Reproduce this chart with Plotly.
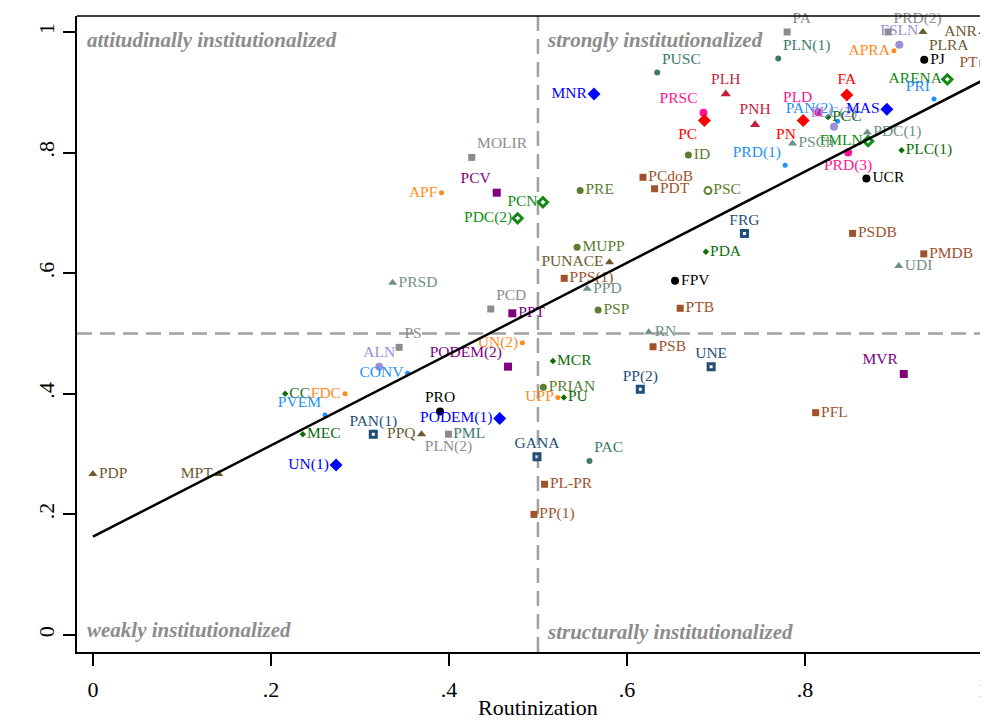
import plotly.graph_objects as go

# ---------------- data ----------------
parties = ["PA", "PLN(1)", "PUSC", "PRD(2)", "FSLN", "PLRA", "ANR", "APRA", "PJ", "PT",
           "ARENA", "PRI", "FA", "PLH", "PRSC", "PNH", "PLD", "PAN(2)", "PLC(2)", "PCC",
           "MAS", "PC", "PN", "PSCh", "FMLN", "PDC(1)", "PLC(1)", "PRD(3)", "PRD(1)", "UCR",
           "ID", "PCdoB", "PDT", "PSC", "MNR", "MOLIR", "APF", "PCV", "PCN", "PDC(2)",
           "PRE", "PRSD", "MUPP", "PUNACE", "PPS(1)", "PPD", "PCD", "PPT", "PSP", "PS",
           "UN(2)", "RN", "FPV", "FRG", "PDA", "PTB", "PSDB", "PMDB", "UDI", "ALN",
           "CONV", "CC", "FDC", "PVEM", "MEC", "PAN(1)", "UN(1)", "PDP", "MPT", "PODEM(2)",
           "MCR", "PRIAN", "UPP", "PU", "PP(2)", "PRO", "PODEM(1)", "PPQ", "PML", "PLN(2)",
           "GANA", "PAC", "PL-PR", "PP(1)", "PSB", "UNE", "MVR", "PFL"]

routinization = [0.780, 0.770, 0.634, 0.8935, 0.906, 0.9325, 1.000, 0.900, 0.934, 1.000,
                 0.960, 0.945, 0.847, 0.711, 0.686, 0.744, 0.815, 0.8366, 0.8326, 0.826,
                 0.892, 0.687, 0.798, 0.786, 0.871, 0.870, 0.9085, 0.8485, 0.7777, 0.869,
                 0.669, 0.618, 0.631, 0.691, 0.563, 0.4256, 0.3916, 0.4537, 0.5056, 0.4772,
                 0.5474, 0.3367, 0.544, 0.5804, 0.5295, 0.5553, 0.447, 0.4712, 0.5676, 0.344,
                 0.4825, 0.6245, 0.654, 0.732, 0.6887, 0.6598, 0.8535, 0.9335, 0.9054, 0.3217,
                 0.3535, 0.216, 0.2833, 0.2608, 0.2358, 0.315, 0.2732, 0.000, 0.1413, 0.4664,
                 0.5168, 0.506, 0.5224, 0.5291, 0.615, 0.390, 0.457, 0.3692, 0.3995, 0.3995,
                 0.4989, 0.5579, 0.5074, 0.4955, 0.6293, 0.6946, 0.911, 0.812]

value_infusion = [1.000, 0.956, 0.933, 1.000, 0.979, 1.000, 1.000, 0.969, 0.954, 0.948,
                  0.9215, 0.889, 0.8955, 0.897, 0.866, 0.846, 0.867, 0.852, 0.843, 0.859,
                  0.872, 0.853, 0.853, 0.815, 0.819, 0.8335, 0.804, 0.800, 0.779, 0.757,
                  0.796, 0.759, 0.740, 0.737, 0.897, 0.792, 0.7335, 0.7335, 0.7176, 0.691,
                  0.737, 0.584, 0.643, 0.618, 0.5915, 0.574, 0.5406, 0.5335, 0.539, 0.477,
                  0.4845, 0.502, 0.5876, 0.666, 0.6357, 0.5418, 0.666, 0.632, 0.612, 0.445,
                  0.434, 0.400, 0.400, 0.365, 0.333, 0.333, 0.282, 0.267, 0.267, 0.445,
                  0.4544, 0.411, 0.394, 0.394, 0.4075, 0.3705, 0.359, 0.333, 0.333, 0.333,
                  0.2957, 0.2886, 0.250, 0.200, 0.478, 0.445, 0.4328, 0.3687]

country = ["PAN", "CR", "CR", "PAN", "NIC", "PAR", "PAR", "PER", "ARG", "BRA",
           "SLV", "MEX", "URU", "HON", "DOM", "HON", "DOM", "MEX", "NIC", "COL",
           "BOL", "URU", "URU", "CHL", "SLV", "CHL", "COL", "DOM", "MEX", "ARG",
           "ECU", "BRA", "BRA", "ECU", "BOL", "PAN", "PER", "VEN", "SLV", "SLV",
           "ECU", "CHL", "ECU", "PAR", "BRA", "CHL", "PAN", "VEN", "ECU", "PAN",
           "PER", "CHL", "ARG", "GUA", "COL", "BRA", "BRA", "BRA", "CHL", "NIC",
           "MEX", "COL", "PER", "MEX", "COL", "GUA", "BOL", "PAR", "PAR", "VEN",
           "COL", "ECU", "PER", "COL", "GUA", "ARG", "BOL", "PAR", "CR", "PAN",
           "GUA", "CR", "BRA", "BRA", "BRA", "GUA", "VEN", "BRA"]

x_tick_vals = [0, 0.2, 0.4, 0.6, 0.8, 1]
x_tick_text = ["0", ".2", ".4", ".6", ".8", "1"]
y_tick_vals = [0, 0.2, 0.4, 0.6, 0.8, 1]
y_tick_text = ["0", ".2", ".4", ".6", ".8", "1"]

fit_intercept = 0.163
fit_slope = 0.757

quadrant_labels = ["attitudinally institutionalized", "strongly institutionalized",
                   "weakly institutionalized", "structurally institutionalized"]

# ---------------- styles ----------------
label_pos = ["top right", "top right", "top right", "top right", "top center", "bottom right", "middle left", "middle left", "middle right", "middle left",
             "middle left", "top left", "top center", "top center", "top left", "top center", "top left", "top left", "top center", "middle right",
             "middle left", "bottom left", "bottom left", "middle right", "middle left", "middle right", "middle right", "bottom center", "top left", "middle right",
             "middle right", "middle right", "middle right", "middle right", "middle left", "top right", "middle left", "top left", "middle left", "middle left",
             "middle right", "middle right", "middle right", "middle left", "middle right", "middle right", "top right", "middle right", "middle right", "top right",
             "middle left", "middle right", "middle right", "top center", "middle right", "middle right", "middle right", "middle right", "middle right", "top center",
             "middle left", "middle right", "middle left", "top left", "middle right", "top center", "middle left", "middle right", "middle left", "top left",
             "middle right", "middle right", "middle left", "middle right", "top center", "top center", "middle left", "middle left", "middle right", "bottom center",
             "top center", "top right", "middle right", "middle right", "middle right", "top center", "top left", "middle right"]

style = {
    "PAN": ("#8c8c8c", "square", 7, 0),
    "CR":  ("#3d7a6e", "circle", 6, 0),
    "CHL": ("#6f9087", "triangle-up", 8, 0),
    "PAR": ("#6b5a2d", "triangle-up", 8, 0),
    "NIC": ("#9a90d6", "circle", 8, 0),
    "PER": ("#ff8c1a", "circle", 5, 0),
    "ARG": ("#000000", "circle", 8, 0),
    "BRA": ("#a0522d", "square", 7, 0),
    "SLV": ("#128a12", "diamond-open", 7, 3),
    "MEX": ("#1e90ff", "circle", 5, 0),
    "URU": ("#ff0000", "diamond", 10, 0),
    "HON": ("#c41e3a", "triangle-up", 9, 0),
    "DOM": ("#ff1493", "circle", 8, 0),
    "BOL": ("#0000ff", "diamond", 10, 0),
    "ECU": ("#5b7d30", "circle", 7, 0),
    "COL": ("#0b6e0b", "diamond", 5, 0),
    "GUA": ("#1f4e79", "square-open", 6, 3),
    "VEN": ("#800080", "square", 8, 0),
}

colors = [style[c][0] for c in country]
symbols = [style[c][1] for c in country]
sizes = [style[c][2] for c in country]
lwidths = [style[c][3] for c in country]
for i, p in enumerate(parties):
    if p == "PSC":
        symbols[i] = "circle-open"
        lwidths[i] = 2

FONT = "Liberation Serif"
GRAY = "#8c8c8c"

fig = go.Figure()

fig.add_trace(go.Scatter(
    x=routinization, y=value_infusion, mode="markers+text",
    text=parties, textposition=label_pos,
    textfont=dict(family=FONT, size=15.5, color=colors),
    marker=dict(color=colors, symbol=symbols, size=sizes, opacity=1,
                line=dict(color=colors, width=lwidths)),
    showlegend=False, cliponaxis=False, hoverinfo="text"))

fit_x = [0, 1]
fit_y = [fit_intercept + fit_slope * v for v in fit_x]
fig.add_trace(go.Scatter(x=fit_x, y=fit_y, mode="lines",
                         line=dict(color="black", width=2.5), showlegend=False))

# reference lines
fig.add_shape(type="line", xref="x", yref="paper", x0=0.5, x1=0.5, y0=0, y1=1,
              line=dict(color="#a0a0a0", width=2.5, dash="15px,8px"), layer="below")
fig.add_shape(type="line", xref="paper", yref="y", x0=0, x1=1, y0=0.5, y1=0.5,
              line=dict(color="#a0a0a0", width=2.5, dash="15px,8px"), layer="below")
# top frame
fig.add_shape(type="line", xref="paper", yref="paper", x0=0, x1=1, y0=1, y1=1,
              line=dict(color="black", width=1.5))

qpos = [(-0.009, 0.987), (0.508, 0.987), (-0.009, 0.008), (0.508, 0.005)]
for txt, (qx, qy) in zip(quadrant_labels, qpos):
    fig.add_annotation(x=qx, y=qy, xref="x", yref="y", text="<b><i>" + txt + "</i></b>",
                       showarrow=False, xanchor="left", yanchor="middle",
                       font=dict(family=FONT, size=21, color=GRAY))

fig.add_annotation(x=0.5, y=-0.087, xref="x", yref="paper", text="Routinization",
                   showarrow=False, xanchor="center", yanchor="middle",
                   font=dict(family=FONT, size=22, color="black"))

# the page adds an 8px body margin, so the figure is 8px smaller on each axis
fig.update_layout(
    width=980, height=712,
    margin=dict(l=69, r=0, t=8, b=68),
    plot_bgcolor="white", paper_bgcolor="white",
    font=dict(family=FONT, color="black"),
    xaxis=dict(range=[-0.0179, 1.0034], tickvals=x_tick_vals, ticktext=x_tick_text,
               showgrid=False, zeroline=False, showline=True, linecolor="black", linewidth=1.5,
               ticks="outside", ticklen=12, tickwidth=1.5, tickcolor="black",
               tickfont=dict(family=FONT, size=22), ticklabelstandoff=5,
               ticklabeloverflow="allow"),
    yaxis=dict(range=[-0.0282, 1.0265], tickvals=y_tick_vals, ticktext=y_tick_text,
               showgrid=False, zeroline=False, showline=True, linecolor="black", linewidth=1.5,
               ticks="outside", ticklen=12, tickwidth=1.5, tickcolor="black",
               tickangle=-90, tickfont=dict(family=FONT, size=22), ticklabelstandoff=0),
)

fig.write_html("out.html")
